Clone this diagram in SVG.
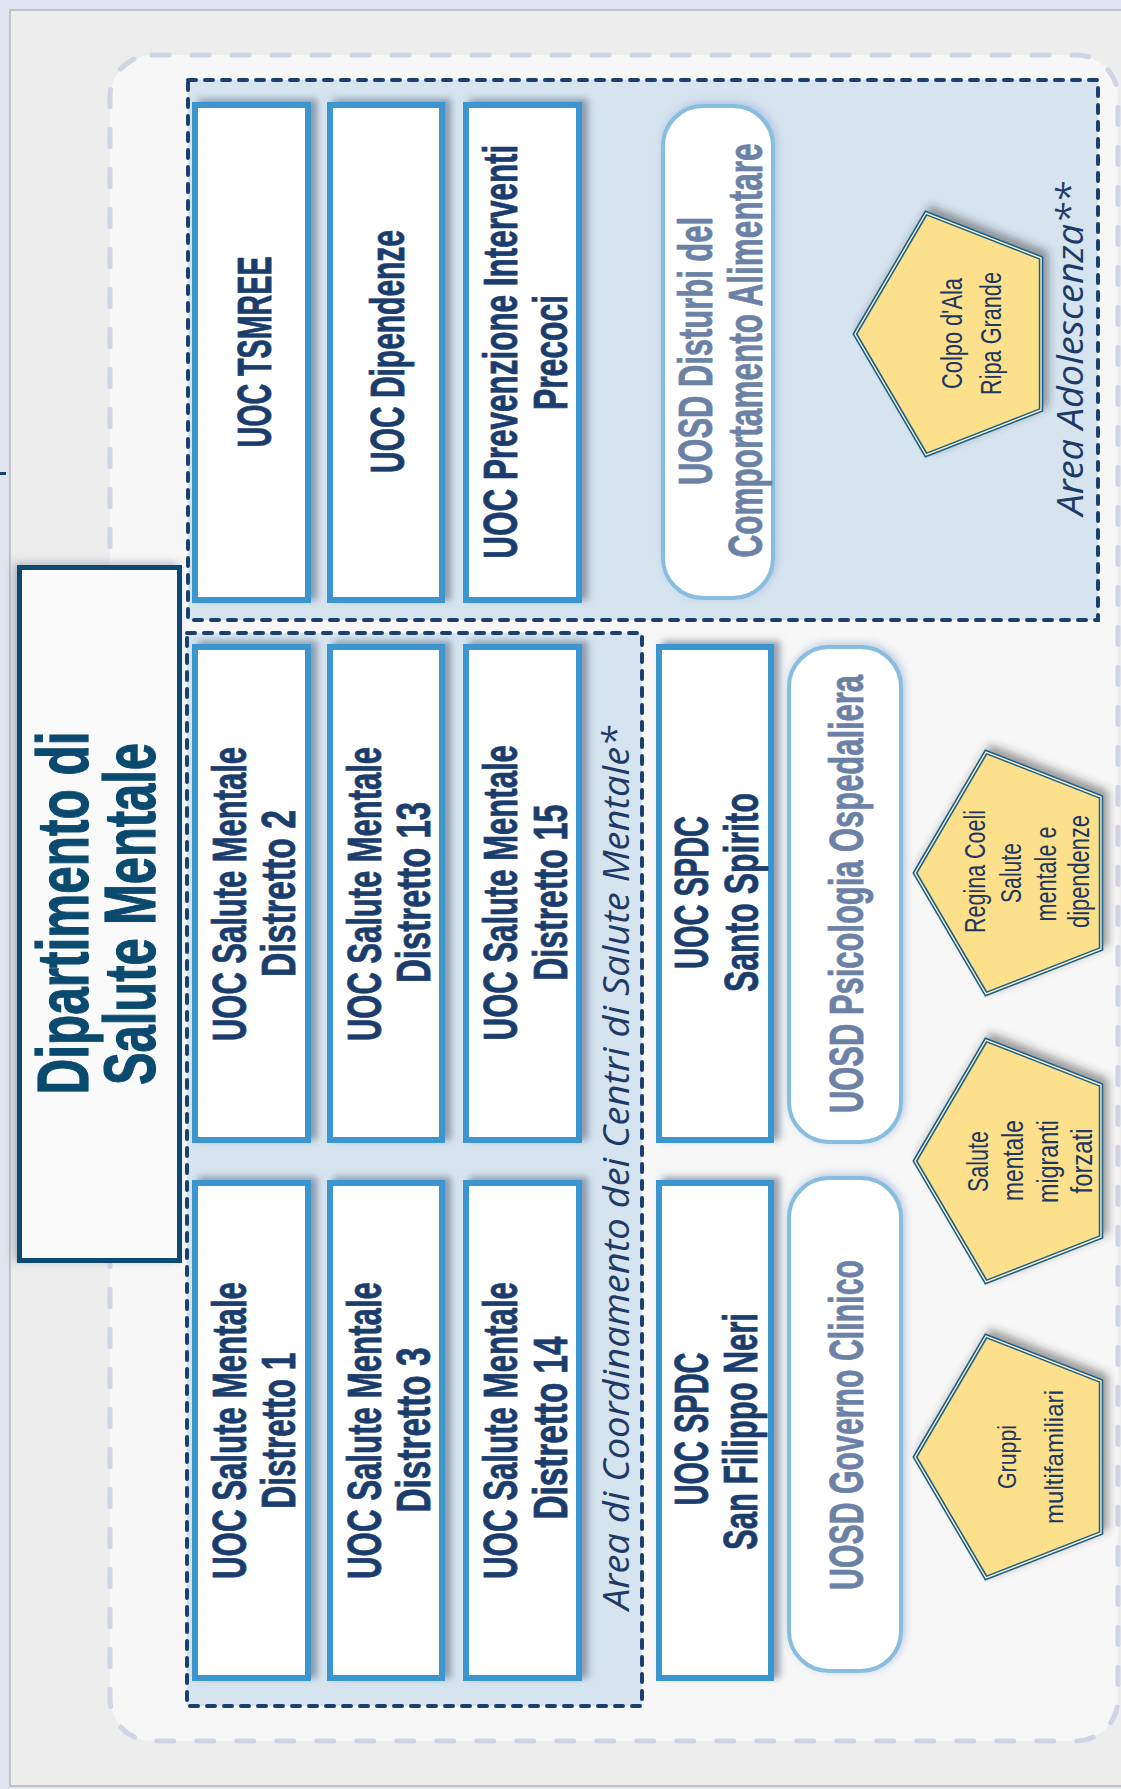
<svg xmlns="http://www.w3.org/2000/svg" xmlns:xlink="http://www.w3.org/1999/xlink" width="1121" height="1789" viewBox="0 0 1121 1789">
<defs>
<style>
.bx{fill:#ffffff;stroke:#3b95cf;stroke-width:6}
.rb{fill:#ffffff;stroke:#86bde0;stroke-width:4}
.t{font-family:"Liberation Sans",Arial,sans-serif;font-weight:bold;font-size:48px;fill:#1a3d6d;stroke:#1a3d6d;stroke-width:0.8;text-anchor:middle}
.tu{font-family:"Liberation Sans",Arial,sans-serif;font-weight:bold;font-size:48px;fill:#6b81a6;stroke:#6b81a6;stroke-width:0.8;text-anchor:middle}
.title{font-family:"Liberation Sans",Arial,sans-serif;font-weight:bold;font-size:72px;fill:#0b4a6f;stroke:#0b4a6f;stroke-width:1.2;text-anchor:middle}
.pt{font-family:"Liberation Sans",Arial,sans-serif;font-size:29px;fill:#1e3760;text-anchor:middle}
.pt2{font-family:"Liberation Sans",Arial,sans-serif;font-size:25px;fill:#1e3760;text-anchor:middle}
.area{font-family:"Open Sans","DejaVu Sans",sans-serif;font-style:italic;font-size:37px;fill:#1f3a66;text-anchor:middle}
.dash{fill:#d6e4f0;stroke:#1b3f6e;stroke-width:4;stroke-dasharray:8 9;stroke-linecap:round}
.pentA{fill:#fde08b;stroke:#1d5f88;stroke-width:4.5;stroke-linejoin:miter}
.pentB{fill:none;stroke:#fdf3cc;stroke-width:1.4;stroke-linejoin:miter}
</style>
<filter id="sh" x="-20%" y="-10%" width="140%" height="120%">
<feDropShadow dx="6" dy="-3" stdDeviation="3.5" flood-color="#56657d" flood-opacity="0.6"/>
</filter>
<filter id="shr" x="-20%" y="-10%" width="140%" height="120%">
<feDropShadow dx="2" dy="-2" stdDeviation="4" flood-color="#9fb2d6" flood-opacity="0.7"/>
</filter>
<filter id="shp" x="-20%" y="-20%" width="140%" height="140%">
<feDropShadow dx="5" dy="-5" stdDeviation="4" flood-color="#2a2a2a" flood-opacity="0.45"/>
</filter>
<filter id="sht" x="-20%" y="-10%" width="140%" height="120%">
<feDropShadow dx="-4" dy="-2" stdDeviation="4" flood-color="#6b7a90" flood-opacity="0.5"/>
</filter>
<polygon id="pent" points="0,0 71,-121 186,-76 186,76 71,121"/>
</defs>

<g id="background">
<rect x="0" y="0" width="1121" height="1789" fill="#dfe5f0"/>
<rect x="10" y="10" width="1125" height="1776" fill="#ededed" stroke="#c3c3c3" stroke-width="2"/>
<rect x="0" y="472" width="6" height="3" fill="#1b3f6e"/>
<rect x="110" y="55" width="1008" height="1686" rx="42" ry="42" fill="#f7f7f7" stroke="#d0d5e3" stroke-width="5" stroke-dasharray="17 23" stroke-linecap="round"/>
</g>

<g id="area-adolescenza">
<rect class="dash" x="188" y="80" width="910" height="540"/>
<text class="area" transform="translate(1083,349) rotate(-90)" textLength="333" lengthAdjust="spacingAndGlyphs">Area Adolescenza**</text>
</g>

<g id="area-coordinamento">
<rect class="dash" x="187" y="633" width="455" height="1073"/>
<text class="area" transform="translate(629,1168) rotate(-90)" textLength="884" lengthAdjust="spacingAndGlyphs">Area di Coordinamento dei Centri di Salute Mentale*</text>
</g>

<g id="connectors"></g>

<g id="dipartimento">
<rect x="19.5" y="567.5" width="160" height="693" fill="#fafafa" stroke="#0b4a6f" stroke-width="5" filter="url(#sht)"/>
<text class="title" transform="translate(87.5,913) rotate(-90)" textLength="363" lengthAdjust="spacingAndGlyphs">Dipartimento di</text>
<text class="title" transform="translate(155,914) rotate(-90)" textLength="342" lengthAdjust="spacingAndGlyphs">Salute Mentale</text>
</g>

<g id="uoc-tsmree">
<rect class="bx" x="195" y="105" width="113" height="495" filter="url(#sh)"/>
<text class="t" transform="translate(270.7,352) rotate(-90)" textLength="191" lengthAdjust="spacingAndGlyphs">UOC TSMREE</text>
</g>
<g id="uoc-dipendenze">
<rect class="bx" x="330" y="105" width="112" height="495" filter="url(#sh)"/>
<text class="t" transform="translate(404,351.5) rotate(-90)" textLength="243" lengthAdjust="spacingAndGlyphs">UOC Dipendenze</text>
</g>
<g id="uoc-prevenzione">
<rect class="bx" x="466" y="105" width="113" height="495" filter="url(#sh)"/>
<text class="t" transform="translate(516.7,351.7) rotate(-90)" textLength="414" lengthAdjust="spacingAndGlyphs">UOC Prevenzione Interventi</text>
<text class="t" transform="translate(566.7,352.5) rotate(-90)" textLength="115" lengthAdjust="spacingAndGlyphs">Precoci</text>
</g>
<g id="uosd-dca">
<rect class="rb" x="663" y="106" width="110" height="492" rx="40" ry="40" filter="url(#shr)"/>
<text class="tu" transform="translate(712,351) rotate(-90)" textLength="268" lengthAdjust="spacingAndGlyphs">UOSD Disturbi del</text>
<text class="tu" transform="translate(761.7,350.5) rotate(-90)" textLength="414" lengthAdjust="spacingAndGlyphs">Comportamento Alimentare</text>
</g>
<g id="colpo-ala">
<use xlink:href="#pent" x="855" y="334" class="pentA" filter="url(#shp)"/>
<use xlink:href="#pent" x="855" y="334" class="pentB"/>
<text class="pt" transform="translate(962,333.5) rotate(-90)" textLength="111" lengthAdjust="spacingAndGlyphs">Colpo d'Ala</text>
<text class="pt" transform="translate(1001,333.5) rotate(-90)" textLength="123" lengthAdjust="spacingAndGlyphs">Ripa Grande</text>
</g>

<g id="csm-d2">
<rect class="bx" x="195" y="647" width="113" height="493" filter="url(#sh)"/>
<text class="t" transform="translate(246,894) rotate(-90)" textLength="294" lengthAdjust="spacingAndGlyphs">UOC Salute Mentale</text>
<text class="t" transform="translate(295,893.5) rotate(-90)" textLength="167" lengthAdjust="spacingAndGlyphs">Distretto 2</text>
</g>
<g id="csm-d13">
<rect class="bx" x="330" y="647" width="112" height="493" filter="url(#sh)"/>
<text class="t" transform="translate(380.5,894) rotate(-90)" textLength="294" lengthAdjust="spacingAndGlyphs">UOC Salute Mentale</text>
<text class="t" transform="translate(429.5,892.5) rotate(-90)" textLength="181" lengthAdjust="spacingAndGlyphs">Distretto 13</text>
</g>
<g id="csm-d15">
<rect class="bx" x="466" y="647" width="113" height="493" filter="url(#sh)"/>
<text class="t" transform="translate(516.7,892.7) rotate(-90)" textLength="295" lengthAdjust="spacingAndGlyphs">UOC Salute Mentale</text>
<text class="t" transform="translate(566.7,892.8) rotate(-90)" textLength="176" lengthAdjust="spacingAndGlyphs">Distretto 15</text>
</g>
<g id="spdc-santo-spirito">
<rect class="bx" x="659" y="647" width="112" height="493" filter="url(#sh)"/>
<text class="t" transform="translate(708,892.5) rotate(-90)" textLength="153" lengthAdjust="spacingAndGlyphs">UOC SPDC</text>
<text class="t" transform="translate(758,892.5) rotate(-90)" textLength="199" lengthAdjust="spacingAndGlyphs">Santo Spirito</text>
</g>
<g id="uosd-psicologia">
<rect class="rb" x="789" y="647" width="112" height="495" rx="40" ry="40" filter="url(#shr)"/>
<text class="tu" transform="translate(863,894) rotate(-90)" textLength="438" lengthAdjust="spacingAndGlyphs">UOSD Psicologia Ospedaliera</text>
</g>
<g id="regina-coeli">
<use xlink:href="#pent" x="915" y="873" class="pentA" filter="url(#shp)"/>
<use xlink:href="#pent" x="915" y="873" class="pentB"/>
<text class="pt" transform="translate(985,871.5) rotate(-90)" textLength="123" lengthAdjust="spacingAndGlyphs">Regina Coeli</text>
<text class="pt" transform="translate(1021,873) rotate(-90)" textLength="60" lengthAdjust="spacingAndGlyphs">Salute</text>
<text class="pt" transform="translate(1056,874) rotate(-90)" textLength="95" lengthAdjust="spacingAndGlyphs">mentale e</text>
<text class="pt" transform="translate(1089,871.5) rotate(-90)" textLength="113" lengthAdjust="spacingAndGlyphs">dipendenze</text>
</g>

<g id="csm-d1">
<rect class="bx" x="195" y="1183" width="113" height="495" filter="url(#sh)"/>
<text class="t" transform="translate(246,1430.5) rotate(-90)" textLength="297" lengthAdjust="spacingAndGlyphs">UOC Salute Mentale</text>
<text class="t" transform="translate(295,1430.6) rotate(-90)" textLength="156" lengthAdjust="spacingAndGlyphs">Distretto 1</text>
</g>
<g id="csm-d3">
<rect class="bx" x="330" y="1183" width="112" height="495" filter="url(#sh)"/>
<text class="t" transform="translate(380.5,1430.5) rotate(-90)" textLength="297" lengthAdjust="spacingAndGlyphs">UOC Salute Mentale</text>
<text class="t" transform="translate(429.5,1430) rotate(-90)" textLength="165" lengthAdjust="spacingAndGlyphs">Distretto 3</text>
</g>
<g id="csm-d14">
<rect class="bx" x="466" y="1183" width="113" height="495" filter="url(#sh)"/>
<text class="t" transform="translate(516.7,1430.5) rotate(-90)" textLength="297" lengthAdjust="spacingAndGlyphs">UOC Salute Mentale</text>
<text class="t" transform="translate(566.7,1428) rotate(-90)" textLength="183" lengthAdjust="spacingAndGlyphs">Distretto 14</text>
</g>
<g id="spdc-san-filippo">
<rect class="bx" x="659" y="1183" width="112" height="495" filter="url(#sh)"/>
<text class="t" transform="translate(708,1429) rotate(-90)" textLength="153" lengthAdjust="spacingAndGlyphs">UOC SPDC</text>
<text class="t" transform="translate(757,1431.5) rotate(-90)" textLength="237" lengthAdjust="spacingAndGlyphs">San Filippo Neri</text>
</g>
<g id="uosd-governo">
<rect class="rb" x="789" y="1178" width="112" height="493" rx="40" ry="40" filter="url(#shr)"/>
<text class="tu" transform="translate(863,1425) rotate(-90)" textLength="330" lengthAdjust="spacingAndGlyphs">UOSD Governo Clinico</text>
</g>
<g id="migranti-forzati">
<use xlink:href="#pent" x="915" y="1161" class="pentA" filter="url(#shp)"/>
<use xlink:href="#pent" x="915" y="1161" class="pentB"/>
<text class="pt" transform="translate(988,1161.5) rotate(-90)" textLength="61" lengthAdjust="spacingAndGlyphs">Salute</text>
<text class="pt" transform="translate(1023,1160.5) rotate(-90)" textLength="81" lengthAdjust="spacingAndGlyphs">mentale</text>
<text class="pt" transform="translate(1058,1161.5) rotate(-90)" textLength="83" lengthAdjust="spacingAndGlyphs">migranti</text>
<text class="pt" transform="translate(1092,1161) rotate(-90)" textLength="65" lengthAdjust="spacingAndGlyphs">forzati</text>
</g>
<g id="gruppi-multifamiliari">
<use xlink:href="#pent" x="915" y="1457" class="pentA" filter="url(#shp)"/>
<use xlink:href="#pent" x="915" y="1457" class="pentB"/>
<text class="pt2" transform="translate(1016,1457) rotate(-90)" textLength="64" lengthAdjust="spacingAndGlyphs">Gruppi</text>
<text class="pt2" transform="translate(1063,1457) rotate(-90)" textLength="134" lengthAdjust="spacingAndGlyphs">multifamiliari</text>
</g>
</svg>
